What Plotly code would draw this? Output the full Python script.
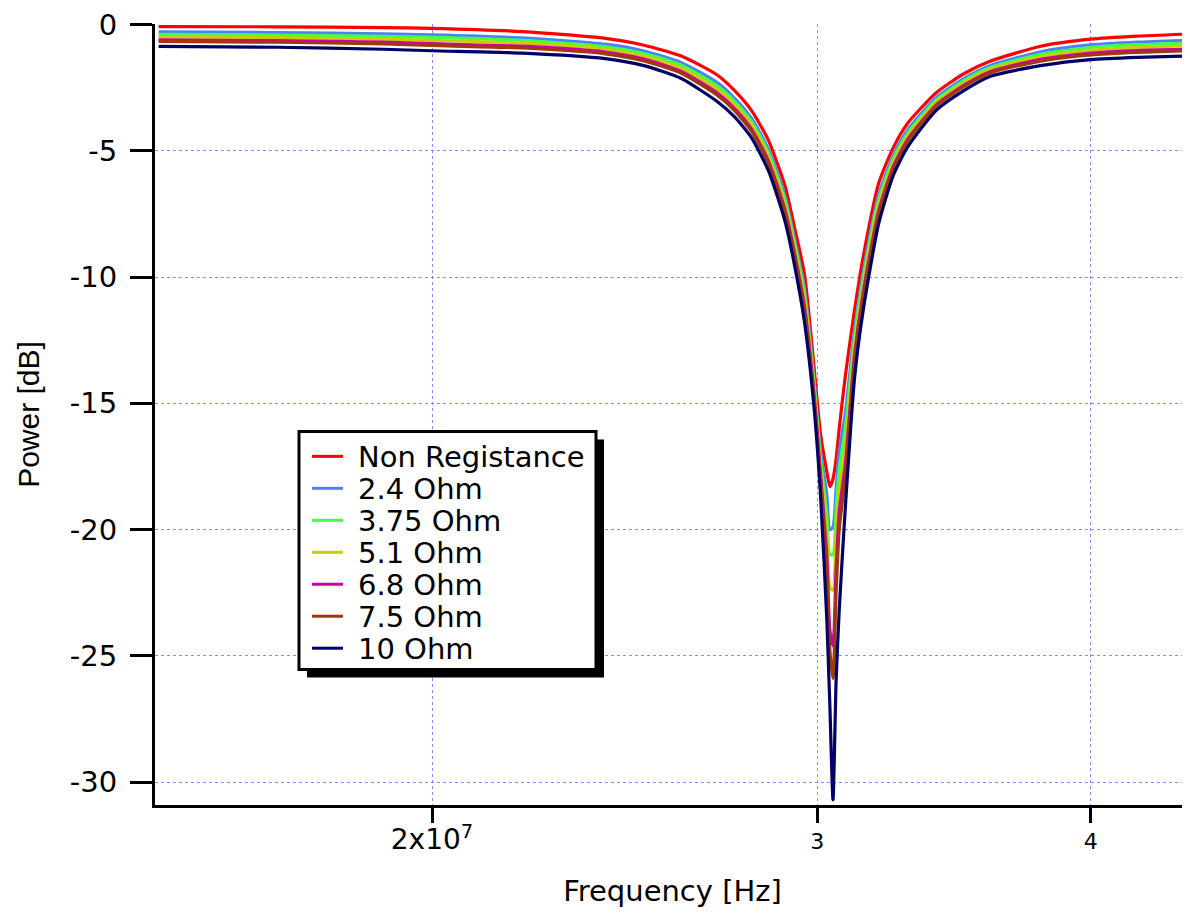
import plotly.graph_objects as go

# ---------------- data ----------------
freq_hz = [15.0e6, 17.0e6, 19.0e6, 20.0e6, 22.0e6, 24.0e6, 25.0e6, 26.0e6, 27.0e6, 27.5e6,
           28.0e6, 28.5e6, 29.0e6, 29.3e6, 29.6e6, 29.9e6, 30.1e6, 30.3e6, 30.4e6, 30.5e6,
           30.6e6, 30.7e6, 30.9e6, 31.2e6, 31.5e6, 32.0e6, 32.5e6, 33.0e6, 34.0e6, 35.0e6,
           36.0e6, 38.0e6, 40.0e6, 42.0e6, 44.5e6]

non_registance = [-0.08, -0.09, -0.12, -0.15, -0.28, -0.55, -0.82, -1.25, -2.00, -2.62,
                  -3.42, -4.60, -6.40, -8.10, -9.90, -13.60, -16.20, -17.70, -18.30, -18.00,
                  -17.20, -16.00, -13.90, -11.30, -9.10, -6.30, -4.87, -3.90, -2.70, -1.95,
                  -1.45, -0.85, -0.58, -0.46, -0.37]
ohm_2_4 = [-0.29, -0.32, -0.37, -0.41, -0.53, -0.78, -1.05, -1.51, -2.30, -2.92,
           -3.73, -4.95, -6.81, -8.54, -10.45, -14.06, -16.90, -18.60, -20.00, -19.90,
           -18.40, -16.90, -15.40, -12.10, -9.70, -6.76, -5.19, -4.17, -2.90, -2.14,
           -1.62, -1.07, -0.81, -0.70, -0.62]
ohm_3_75 = [-0.39, -0.42, -0.47, -0.51, -0.63, -0.88, -1.15, -1.61, -2.43, -3.05,
            -3.86, -5.09, -6.97, -8.72, -10.68, -14.26, -17.20, -19.40, -21.00, -21.00,
            -19.20, -17.60, -16.00, -12.40, -9.96, -6.96, -5.32, -4.29, -2.99, -2.22,
            -1.70, -1.17, -0.91, -0.80, -0.73]
ohm_5_1 = [-0.49, -0.52, -0.58, -0.63, -0.74, -0.98, -1.26, -1.73, -2.57, -3.18,
           -4.00, -5.25, -7.16, -8.91, -10.93, -14.46, -17.50, -20.20, -22.30, -22.40,
           -20.20, -18.50, -16.70, -12.76, -10.23, -7.16, -5.46, -4.41, -3.08, -2.31,
           -1.77, -1.27, -1.02, -0.91, -0.84]
ohm_6_8 = [-0.61, -0.64, -0.70, -0.76, -0.86, -1.09, -1.37, -1.86, -2.71, -3.33,
           -4.15, -5.42, -7.35, -9.12, -11.19, -14.69, -17.80, -21.00, -24.00, -24.60,
           -21.60, -19.30, -17.40, -13.10, -10.50, -7.39, -5.62, -4.54, -3.18, -2.41,
           -1.86, -1.37, -1.13, -1.03, -0.98]
ohm_7_5 = [-0.67, -0.70, -0.77, -0.83, -0.93, -1.16, -1.44, -1.93, -2.80, -3.41,
           -4.24, -5.51, -7.46, -9.24, -11.34, -14.82, -18.00, -21.60, -24.80, -25.90,
           -22.50, -20.00, -17.85, -13.35, -10.70, -7.52, -5.71, -4.61, -3.23, -2.46,
           -1.91, -1.44, -1.20, -1.10, -1.03]
ohm_10 = [-0.87, -0.90, -0.98, -1.04, -1.13, -1.35, -1.63, -2.14, -3.05, -3.66,
          -4.50, -5.80, -7.80, -9.60, -11.80, -15.20, -18.60, -23.50, -27.00, -30.70,
          -26.00, -23.20, -19.10, -14.00, -11.20, -7.90, -5.97, -4.84, -3.40, -2.62,
          -2.05, -1.62, -1.39, -1.30, -1.24]

series_names = ["Non Registance", "2.4 Ohm", "3.75 Ohm", "5.1 Ohm", "6.8 Ohm", "7.5 Ohm", "10 Ohm"]
series_values = [non_registance, ohm_2_4, ohm_3_75, ohm_5_1, ohm_6_8, ohm_7_5, ohm_10]

x_tick_vals = [2e7, 3e7, 4e7]
x_tick_text = ['<span style="font-size:28px">2x10<sup>7</sup></span>', "3", "4"]
y_tick_vals = [0, -5, -10, -15, -20, -25, -30]
y_tick_text = ["0", "-5", "-10", "-15", "-20", "-25", "-30"]

# ---------------- styles ----------------
colors = ["#ff0000", "#4a80ff", "#44ff44", "#cccc00", "#cc00aa", "#a0380c", "#000066"]
FONT = "DejaVu Sans, Liberation Sans, Arial, sans-serif"
OFF = 8                      # page offset of the figure inside the browser window
W, H = 1190 - OFF, 913 - OFF
L, R, T, B = 147, 0, 13, 108
X_RANGE = [7.17443, 7.64746]
Y_RANGE = [-30.91, 0.02]

fig = go.Figure()
for name, vals, col in zip(series_names, series_values, colors):
    fig.add_trace(go.Scatter(x=freq_hz, y=vals, mode="lines", name=name,
                             line=dict(color=col, width=3.2, shape="spline", smoothing=0.6),
                             showlegend=False))

grid_col = "rgba(110,110,255,0.8)"
fig.update_xaxes(type="log", range=X_RANGE,
                 tickmode="array", tickvals=x_tick_vals, ticktext=x_tick_text,
                 ticks="outside", ticklen=15, tickwidth=3, tickcolor="black",
                 showline=True, linewidth=3, linecolor="black", mirror=False,
                 showgrid=True, gridcolor=grid_col, gridwidth=1, griddash="3px,3px",
                 zeroline=False, tickfont=dict(family=FONT, size=22, color="black"),
                 ticklabeloverflow="allow",
                 title=dict(text="Frequency [Hz]", font=dict(family=FONT, size=29, color="black"),
                            standoff=26))
fig.update_yaxes(range=Y_RANGE,
                 tickmode="array", tickvals=y_tick_vals, ticktext=y_tick_text,
                 ticks="outside", ticklen=22, tickwidth=3, tickcolor="black",
                 showline=True, linewidth=3, linecolor="black", mirror=False,
                 showgrid=True, gridcolor=grid_col, gridwidth=1, griddash="3px,3px",
                 zeroline=False, tickfont=dict(family=FONT, size=29, color="black"),
                 ticklabelstandoff=7, ticklabeloverflow="allow",
                 title=dict(text="Power [dB]", font=dict(family="Liberation Sans, Arial, sans-serif",
                                                         size=30, color="black"),
                            standoff=22))

# ---------------- custom legend box (boxed with drop shadow) ----------------
pw, ph = W - L - R, H - T - B
def px(xp):
    return (xp - OFF - L) / pw
def py(yp):
    return (H - B - (yp - OFF)) / ph

box_l, box_t, box_r, box_b = 299, 430, 596, 669
shadow = 8
shapes = [
    dict(type="rect", xref="paper", yref="paper", layer="above",
         x0=px(box_l + shadow), x1=px(box_r + shadow), y0=py(box_b + shadow), y1=py(box_t + shadow),
         fillcolor="black", line=dict(width=0)),
    dict(type="rect", xref="paper", yref="paper", layer="above",
         x0=px(box_l), x1=px(box_r), y0=py(box_b), y1=py(box_t),
         fillcolor="white", line=dict(color="black", width=3)),
]
annotations = []
row0, row_h = 455, 32.1
for i, (name, col) in enumerate(zip(series_names, colors)):
    yy = row0 + i * row_h
    shapes.append(dict(type="line", xref="paper", yref="paper", layer="above",
                       x0=px(312), x1=px(343), y0=py(yy), y1=py(yy),
                       line=dict(color=col, width=3)))
    annotations.append(dict(xref="paper", yref="paper", x=px(356), y=py(yy + 1),
                            xanchor="left", yanchor="middle", showarrow=False, text=name,
                            font=dict(family=FONT, size=29, color="black")))

fig.update_layout(width=W, height=H, margin=dict(l=L, r=R, t=T, b=B),
                  paper_bgcolor="white", plot_bgcolor="white",
                  shapes=shapes, annotations=annotations, showlegend=False)

fig.write_html("out.html")
